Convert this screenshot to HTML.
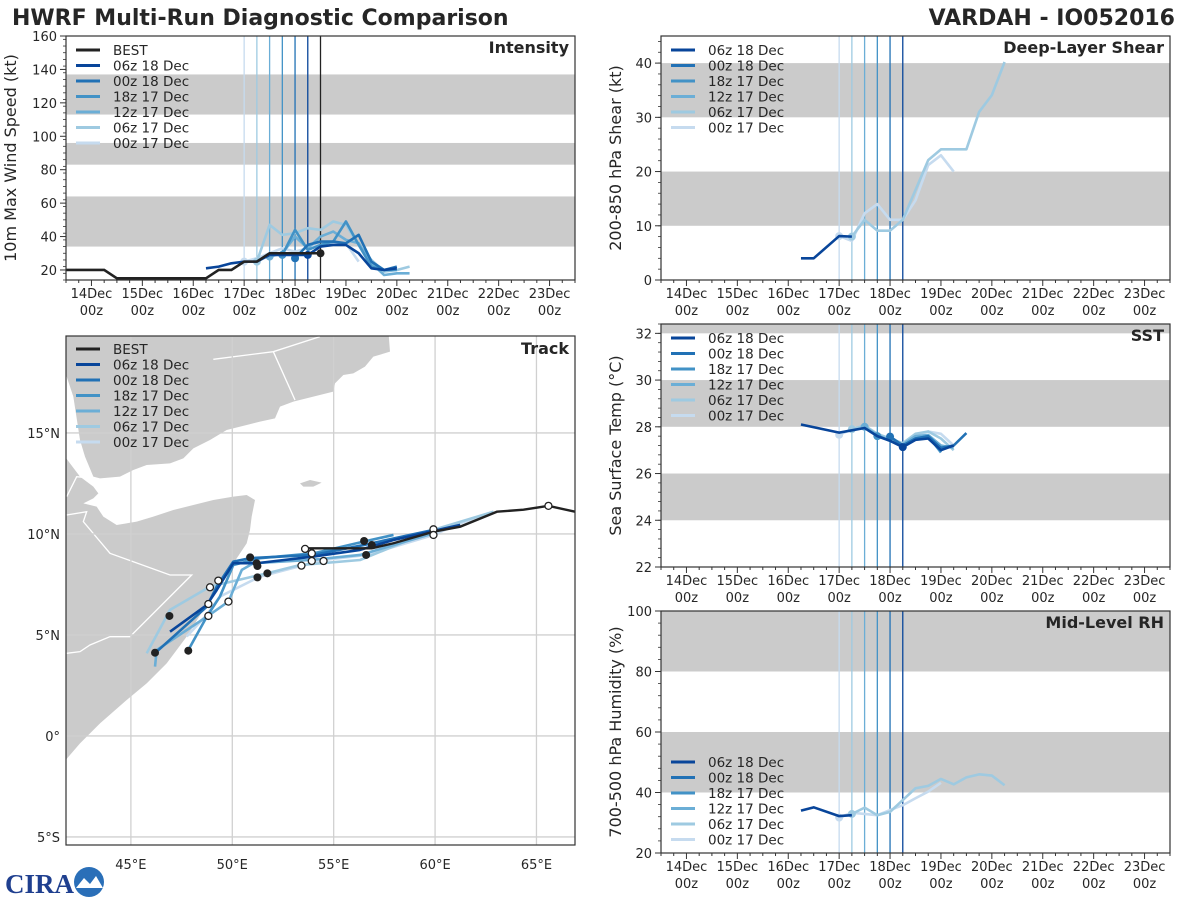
<!DOCTYPE html>
<html><head><meta charset="utf-8">
<style>
html,body{margin:0;padding:0;background:#fff;}
svg{display:block;font-family:"DejaVu Sans","Liberation Sans",sans-serif;}
</style></head>
<body>
<svg id="fig" width="1200" height="900" viewBox="0 0 1200 900" xmlns="http://www.w3.org/2000/svg">
<rect x="0" y="0" width="1200" height="900" fill="#fff"/>
<text x="12" y="25" font-size="22" font-weight="bold" fill="#262626">HWRF Multi-Run Diagnostic Comparison</text>
<text x="1175" y="25" font-size="22" font-weight="bold" fill="#262626" text-anchor="end">VARDAH - IO052016</text>
<g id="root"></g>
<g>
<text x="5" y="893" font-size="27" font-weight="bold" fill="#1f3f8f" font-family="Liberation Serif, serif">CIRA</text>
<circle cx="89" cy="882" r="15" fill="#2a6fb8"/>
<path d="M76,888 L84,878 L90,884 L96,876 L103,888 Z" fill="#fff"/>
</g>
</svg>
<script>
// ---------- data ----------
const runNames = ["06z 18 Dec","00z 18 Dec","18z 17 Dec","12z 17 Dec","06z 17 Dec","00z 17 Dec"];
const runColors = ["#08459a","#2171b5","#4292c6","#6baed6","#9ecae1","#c6dbef"];
const runInit = [18.25,18.0,17.75,17.5,17.25,17.0];
const bestInit = 18.5;
const dayTicks = [14,15,16,17,18,19,20,21,22,23];

// intensity (kt)
const bestDays = [13.5,14.25,14.5,16.25,16.5,16.75,17,17.25,17.5,17.75,18,18.25,18.5];
const bestVmax = [20,20,15,15,20,20,25,25,30,30,30,30,30];
const vmaxDays = [
 [16.25,16.5,16.75,17,17.25,17.5,17.75,18,18.25,18.5,18.75,19,19.25,19.5,19.75,20],
 [18,18.25,18.5,18.75,19,19.25,19.5,19.75,20],
 [17.75,18,18.25,18.5,18.75,19,19.25,19.5,19.75,20],
 [17.5,17.75,18,18.25,18.5,18.75,19,19.25,19.5,19.75,20,20.25],
 [17.25,17.5,17.75,18,18.25,18.5,18.75,19,19.25,19.5,19.75,20,20.25],
 [17,17.25,17.5,17.75,18,18.25,18.5,18.75,19,19.25]];
const vmaxVals = [
 [21,22,24,25,25,29,29,29,29,34,35,35,30,21,20,21],
 [27,35,37,37,36,41,25,20,22],
 [29,44,32,35,37,49,35,22,20,20],
 [28,30,40,33,40,43,38,36,24,17,18,18],
 [25,47,41,42,45,44,49,47,35,26,19,20,22],
 [25,27,30,33,31,33,35,36,36,25]];

// shear (kt)
const shearDays = [
 [16.25,16.5,17,17.25],[],[],[],
 [17.25,17.5,17.75,18,18.25,18.5,18.75,19,19.25,19.5,19.75,20,20.25],
 [17,17.25,17.5,17.75,18,18.25,18.5,18.75,19,19.25]];
const shearVals = [
 [4,4,8.1,8],[],[],[],
 [8,11.1,9.1,9.1,11.1,16.6,22.1,24.1,24.1,24.1,31,34.1,40.2],
 [8.1,7.2,12.3,14,11.1,11.1,14.7,21.2,23,20]];

// SST (C)
const sstDays = [
 [16.25,17,17.25,17.5,17.75,18,18.25,18.5,18.75,19,19.25],
 [18,18.25,18.5,18.75,19,19.25,19.5],
 [17.75,18,18.25,18.5,18.75,19],
 [17.5,17.75,18,18.25,18.5,18.75,19,19.25],
 [17.25,17.5,17.75,18,18.25,18.5,18.75,19,19.25],
 [17,17.25,17.5,17.75,18,18.25,18.5,18.75,19,19.25]];
const sstVals = [
 [28.1,27.75,27.85,27.95,27.6,27.4,27.13,27.44,27.5,27.0,27.2],
 [27.58,27.2,27.5,27.6,27.1,27.2,27.73],
 [27.6,27.4,27.2,27.5,27.6,26.9],
 [28.0,27.65,27.4,27.25,27.6,27.65,27.2,27.1],
 [27.9,28.05,27.7,27.5,27.3,27.7,27.8,27.5,27.0],
 [27.66,27.9,28.0,27.7,27.4,27.3,27.6,27.8,27.7,27.2]];

// RH (%)
const rhDays = [
 [16.25,16.5,17,17.25],[],[],[],
 [17.25,17.5,17.75,18,18.25,18.5,18.75,19,19.25,19.5,19.75,20,20.25],
 [17,17.25,17.5,17.75,18,18.25,18.5,18.75,19]];
const rhVals = [
 [34,35.1,32.2,32.5],[],[],[],
 [32.9,35,32.5,33.6,37.5,41.4,42.2,44.5,42.7,45,46,45.6,42.4],
 [31.7,33.3,32.9,32.5,34.2,35.8,38.1,40.3,43.2]];

// track (lon E, lat N)
const bestLon = [66.9,65.59,64.36,63.05,61.24,59.92,57.95,56.88,53.59];
const bestLat = [11.1,11.39,11.2,11.1,10.36,10.11,9.54,9.29,9.29];
const trackLon = [
 [61.24,57.95,56.30,54.0,51.2,50.05,49.23,48.74,46.93],
 [59.92,56.47,54.0,50.88,50.05,49.23,48.74,46.27],
 [57.95,56.47,54.0,51.37,50.05,49.39,48.74,47.83],
 [59.92,56.30,53.84,51.04,50.47,49.81,48.74,46.27,46.19],
 [62.88,59.92,56.30,53.34,51.70,48.90,46.93,45.78],
 [62.88,61.24,59.92,56.63,54.50,51.37,49.39,48.74,47.75]];
const trackLat = [
 [10.45,9.70,9.21,8.88,8.55,8.55,7.22,6.48,5.16],
 [10.20,9.45,8.96,8.80,8.63,7.39,6.40,4.17],
 [9.95,9.62,9.04,8.80,8.46,6.90,5.90,4.25],
 [10.03,8.96,8.71,8.55,8.22,6.65,5.90,4.25,3.43],
 [11.1,10.20,8.71,8.46,8.05,7.39,6.24,4.09],
 [11.1,10.53,9.95,8.96,8.71,7.89,6.90,5.99,4.92]];
const dotLon = [56.88,56.5,56.6,51.2,51.24,50.88,51.73,51.24,46.9,46.19,47.83];
const dotLat = [9.45,9.65,8.96,8.55,8.41,8.84,8.05,7.85,5.94,4.12,4.22];
const openLon = [65.59,59.92,59.92,53.59,53.92,53.92,53.41,54.5,49.31,48.90,48.82,48.82,49.81];
const openLat = [11.39,10.23,9.95,9.26,9.04,8.66,8.43,8.66,7.69,7.36,6.53,5.94,6.65];

// ---------- helpers ----------
const NS="http://www.w3.org/2000/svg";
const root=document.getElementById('root');
function mk(tag,attrs,parent){const e=document.createElementNS(NS,tag);for(const k in attrs)e.setAttribute(k,attrs[k]);(parent||root).appendChild(e);return e;}
function txt(s,attrs,parent){const e=mk('text',attrs,parent);e.textContent=s;return e;}

function timePanel(cfg){
  const g=mk('g',{});
  
  
  const L=cfg.L,R=cfg.R,T=cfg.T,B=cfg.B;
  const xs=d=>L+(d-13.5)/10*(R-L);
  const ys=v=>B-(v-cfg.ymin)/(cfg.ymax-cfg.ymin)*(B-T);
  cfg.bands.forEach(b=>{
    const lo=Math.max(b[0],cfg.ymin),hi=Math.min(b[1],cfg.ymax);
    const r=mk('rect',{x:L,y:ys(hi),width:R-L,height:ys(lo)-ys(hi),fill:'#cbcbcb'},g);
    
    
  });
  for(let i=runInit.length-1;i>=0;i--){
    const l=mk('line',{x1:xs(runInit[i]),x2:xs(runInit[i]),y1:T,y2:B,stroke:runColors[i],'stroke-width':1.3},g);
    
    
  }
  if(cfg.bestLine){
    const l=mk('line',{x1:xs(bestInit),x2:xs(bestInit),y1:T,y2:B,stroke:'#222','stroke-width':1.3},g);
    
    
  }
  for(let i=runInit.length-1;i>=0;i--){
    const D=cfg.days[i],V=cfg.vals[i];
    if(!D.length)continue;
    const p=mk('polyline',{points:D.map((d,k)=>xs(d)+','+ys(V[k])).join(' '),fill:'none',stroke:runColors[i],'stroke-width':2.6,'stroke-linejoin':'round'},g);
    
    
    const k=D.indexOf(runInit[i]);
    if(k>=0){const c=mk('circle',{cx:xs(D[k]),cy:ys(V[k]),r:4,fill:runColors[i]},g);
      
      }
  }
  if(cfg.bestDays){
    const p=mk('polyline',{points:cfg.bestDays.map((d,k)=>xs(d)+','+ys(cfg.bestVals[k])).join(' '),fill:'none',stroke:'#222','stroke-width':2.6},g);
    
    
    const n=cfg.bestDays.length-1;
    const c=mk('circle',{cx:xs(cfg.bestDays[n]),cy:ys(cfg.bestVals[n]),r:4,fill:'#222'},g);
    
    
  }
  const fr=mk('rect',{x:L,y:T,width:R-L,height:B-T,fill:'none',stroke:'#333','stroke-width':1.2},g);
  
  
  for(let d=13.5;d<=23.5001;d+=0.25){
    const major=Math.abs(d-Math.round(d))<1e-6;
    mk('line',{x1:xs(d),x2:xs(d),y1:B,y2:B+(major?6:3),stroke:'#333','stroke-width':1},g);
  }
  dayTicks.forEach(d=>{
    const t=txt(d+'Dec',{x:xs(d),y:B+18,'font-size':13,'text-anchor':'middle',fill:'#262626'},g);
    
    
    const t2=txt('00z',{x:xs(d),y:B+35,'font-size':13,'text-anchor':'middle',fill:'#262626'},g);
    
    
  });
  cfg.yticks.forEach(v=>{
    mk('line',{x1:L-6,x2:L,y1:ys(v),y2:ys(v),stroke:'#333','stroke-width':1},g);
    const t=txt(String(v),{x:L-9,y:ys(v)+5,'font-size':13,'text-anchor':'end',fill:'#262626'},g);
    
    
  });
  for(let v=cfg.ymin;v<=cfg.ymax+1e-6;v+=cfg.minor){
    const vv=Math.round(v*1000)/1000;
    mk('line',{x1:L-3,x2:L,y1:ys(vv),y2:ys(vv),stroke:'#333','stroke-width':0.8},g);
  }
  const cy=(T+B)/2;
  const yt=txt(cfg.ytitle,{x:cfg.ytx,y:cy,'font-size':16,'text-anchor':'middle',fill:'#262626',transform:'rotate(-90 '+cfg.ytx+' '+cy+')'},g);
  
  
  const pt=txt(cfg.title,{x:R-6,y:T+17,'font-size':16,'font-weight':'bold','text-anchor':'end',fill:'#262626'},g);
  
  
  legend(g,cfg.L+10,cfg.legY,cfg.bestDays?true:false);
}

function legend(g,x,y,withBest){
  const lg=mk('g',{},g);
  
  
  const names=(withBest?['BEST']:[]).concat(runNames);
  const cols=(withBest?['#222']:[]).concat(runColors);
  names.forEach((n,i)=>{
    const yy=y+i*15.5;
    const e=mk('g',{},lg);
    
    
    mk('line',{x1:x,x2:x+24,y1:yy,y2:yy,stroke:cols[i],'stroke-width':3},e);
    txt(n,{x:x+37,y:yy+5,'font-size':13.5,fill:'#262626'},e);
  });
}

timePanel({name:'intensity-panel',L:66,R:575,T:36,B:280,ymin:14,ymax:160,yticks:[20,40,60,80,100,120,140,160],minor:4,
  bands:[[34,64],[83,96],[113,137]],days:vmaxDays,vals:vmaxVals,bestDays:bestDays,bestVals:bestVmax,bestLine:true,
  ytitle:'10m Max Wind Speed (kt)',ytx:16,title:'Intensity',legY:50});
timePanel({name:'shear-panel',L:661,R:1170,T:36,B:280,ymin:0,ymax:45,yticks:[0,10,20,30,40],minor:2,
  bands:[[10,20],[30,40]],days:shearDays,vals:shearVals,bestLine:false,
  ytitle:'200-850 hPa Shear (kt)',ytx:621,title:'Deep-Layer Shear',legY:50});
timePanel({name:'sst-panel',L:661,R:1170,T:324,B:567,ymin:22,ymax:32.4,yticks:[22,24,26,28,30,32],minor:0.4,
  bands:[[24,26],[28,30],[32,34]],days:sstDays,vals:sstVals,bestLine:false,
  ytitle:'Sea Surface Temp (°C)',ytx:621,title:'SST',legY:338});
timePanel({name:'rh-panel',L:661,R:1170,T:611,B:853,ymin:20,ymax:100,yticks:[20,40,60,80,100],minor:4,
  bands:[[40,60],[80,100]],days:rhDays,vals:rhVals,bestLine:false,
  ytitle:'700-500 hPa Humidity (%)',ytx:621,title:'Mid-Level RH',legY:762});

// ---------- track panel ----------
(function(){
  const L=66,R=575,T=336,B=845;
  const lonMin=41.8,lonMax=66.9,latMin=-5.4,latMax=19.8;
  const xs=lo=>L+(lo-lonMin)/(lonMax-lonMin)*(R-L);
  const ys=la=>B-(la-latMin)/(latMax-latMin)*(B-T);
  const g=mk('g',{});
  
  
  const cp=mk('clipPath',{id:'tclip'},g);
  mk('rect',{x:L,y:T,width:R-L,height:B-T},cp);
  const clipG=mk('g',{'clip-path':'url(#tclip)'},g);
  const land=mk('g',{transform:'translate(60,330) scale(0.3333333)'},clipG);
  
  
  mk('path',{fill:'#cbcbcb',d:'M0,0 L985,0 L990,65 L940,80 L915,110 L880,130 L850,135 L825,160 L820,185 L760,200 L700,215 L660,230 L645,265 L600,275 L560,285 L500,300 L450,330 L400,355 L370,385 L330,400 L260,405 L220,420 L180,440 L120,445 L100,440 L75,380 L60,330 L40,200 L20,140 L0,140 Z'},land);
  mk('path',{fill:'#cbcbcb',d:'M0,360 L30,400 L60,440 L100,470 L115,490 L100,505 L70,520 L110,530 L130,560 L170,585 L230,575 L280,560 L340,540 L400,525 L460,510 L520,500 L560,495 L585,510 L575,560 L570,600 L560,640 L520,700 L480,760 L430,840 L380,920 L320,1000 L260,1060 L200,1110 L120,1180 L60,1240 L0,1310 Z'},land);
  mk('path',{fill:'#cbcbcb',d:'M720,460 L750,450 L785,458 L760,470 L730,470 Z'},land);
  mk('path',{fill:'none',stroke:'#fff','stroke-width':4,d:'M460,88 L640,65 L780,20 M640,65 L705,210 M20,555 L80,545 L70,575 L150,670 L330,735 L395,735 L210,920 L150,920 L90,945 L60,965 L20,970 M20,500 L50,440 L100,445'},land);
  [45,50,55,60,65].forEach(lo=>{mk('line',{x1:xs(lo),x2:xs(lo),y1:T,y2:B,stroke:'#d0d0d0','stroke-width':1.3},g);
    const t=txt(lo+'°E',{x:xs(lo),y:B+24,'font-size':13,'text-anchor':'middle',fill:'#262626'},g);
    
    });
  [15,10,5,0,-5].forEach(la=>{mk('line',{x1:L,x2:R,y1:ys(la),y2:ys(la),stroke:'#d0d0d0','stroke-width':1.3},g);
    const s=la>0?la+'°N':(la<0?(-la)+'°S':'0°');
    const t=txt(s,{x:L-6,y:ys(la)+5,'font-size':13,'text-anchor':'end',fill:'#262626'},g);
    
    });
  for(let i=runNames.length-1;i>=0;i--){
    const p=mk('polyline',{points:trackLon[i].map((lo,k)=>xs(lo)+','+ys(trackLat[i][k])).join(' '),fill:'none',stroke:runColors[i],'stroke-width':2.6,'stroke-linejoin':'round'},g);
    
    
  }
  const bp=mk('polyline',{points:bestLon.map((lo,k)=>xs(lo)+','+ys(bestLat[k])).join(' '),fill:'none',stroke:'#222','stroke-width':2.4},g);
  
  
  dotLon.forEach((lo,k)=>{const c=mk('circle',{cx:xs(lo),cy:ys(dotLat[k]),r:4,fill:'#222'},g);
    
    });
  openLon.forEach((lo,k)=>{const c=mk('circle',{cx:xs(lo),cy:ys(openLat[k]),r:3.5,fill:'#fff',stroke:'#222','stroke-width':1.3},g);
    
    });
  mk('rect',{x:L,y:T,width:R-L,height:B-T,fill:'none',stroke:'#333','stroke-width':1.2},g);
  const pt=txt('Track',{x:R-6,y:T+18,'font-size':16,'font-weight':'bold','text-anchor':'end',fill:'#262626'},g);
  
  
  legend(g,L+10,349,true);
})();
</script>
</body></html>
